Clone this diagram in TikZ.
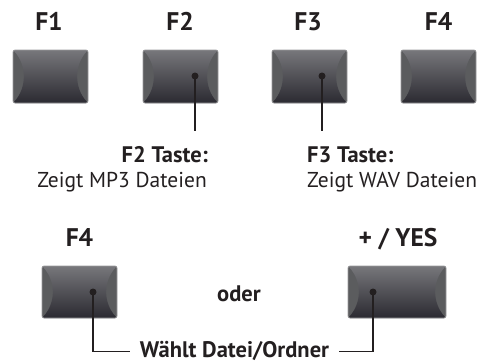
\documentclass[tikz,border=0pt]{standalone}
\usepackage{fontspec}
\setmainfont{PT Sans}
\definecolor{btntop}{HTML}{77777B}
\definecolor{btnmid}{HTML}{47464C}
\definecolor{btnbot}{HTML}{2B2A31}
\definecolor{btncheek}{HTML}{5B5C5E}
\definecolor{btnborder}{HTML}{9A9A9C}
\definecolor{txt}{HTML}{231F20}
\begin{document}
\begin{tikzpicture}[x=1pt,y=-1pt,
  btn/.style={rectangle, rounded corners=2pt, minimum height=53pt,
    fill=btncheek, draw=btnborder, line width=0.7pt, inner sep=0pt,
    path picture={
      \shade[top color=btntop, middle color=btnmid, bottom color=btnbot]
        (path picture bounding box.north west) -- (path picture bounding box.north east)
        .. controls ([xshift=-14pt,yshift=-15pt]path picture bounding box.north east)
        and ([xshift=-14pt,yshift=15pt]path picture bounding box.south east)
        .. (path picture bounding box.south east)
        -- (path picture bounding box.south west)
        .. controls ([xshift=14pt,yshift=15pt]path picture bounding box.south west)
        and ([xshift=14pt,yshift=-15pt]path picture bounding box.north west)
        .. cycle;
    }},
  fkey/.style={btn, minimum width=75pt},
  widekey/.style={btn, minimum width=98pt, minimum height=52pt},
  keylabel/.style={font=\bfseries\fontsize{25.5}{26}\selectfont, text=txt, inner sep=0pt, anchor=base},
  desc/.style={font=\fontsize{21.5}{24}\selectfont, text=txt, inner sep=0pt},
  descb/.style={desc, font=\bfseries\fontsize{22.5}{24}\selectfont},
  dot/.style={circle, fill=txt, minimum size=7pt, inner sep=0pt},
  conn/.style={draw=txt, line width=1.1pt}
]
\useasboundingbox (0,0) rectangle (487,362);

% top row
\node[fkey] (k1) at (50.5,76.5) {};
\node[fkey] (k2) at (180.5,76.5) {};
\node[fkey] (k3) at (309.5,76.5) {};
\node[fkey] (k4) at (438.5,76.5) {};
\node[keylabel] (l1) at (49,30) {F1};
\node[keylabel] (l2) at (180,30) {F2};
\node[keylabel] (l3) at (308,30) {F3};
\node[keylabel] (l4) at (438.5,30) {F4};

\node[dot] (d2) at (195,76) {};
\node[dot] (d3) at (322,76) {};
\coordinate (e2) at (195,131);
\coordinate (e3) at (322,131);
\draw[conn] (d2.center) -- (e2);
\draw[conn] (d3.center) -- (e3);

\node[descb, anchor=base east] (t2) at (208,162) {F2 Taste:};
\node[desc, anchor=base east] (s2) at (207,187) {Zeigt MP3 Dateien};
\node[descb, anchor=base west] (t3) at (307,162) {F3 Taste:};
\node[desc, anchor=base west] (s3) at (307,187) {Zeigt WAV Dateien};

% bottom row
\node[keylabel] (l5) at (79.5,246) {F4};
\node[keylabel] (l6) at (398,246) {+ / YES};
\node[fkey, minimum height=52pt] (k5) at (79.5,292) {};
\node[widekey] (k6) at (397,292) {};
\node[descb, anchor=base] (oder) at (239,301) {oder};

\node[dot] (d5) at (93,292) {};
\node[dot] (d6) at (373,292) {};
\node[descb, anchor=base] (wt) at (234.5,357) {Wählt Datei/Ordner};
\draw[conn] (d5.center) |- ([xshift=-10pt,yshift=-1pt]wt.west);
\draw[conn] (d6.center) |- ([xshift=10pt,yshift=-1pt]wt.east);
\end{tikzpicture}
\end{document}
